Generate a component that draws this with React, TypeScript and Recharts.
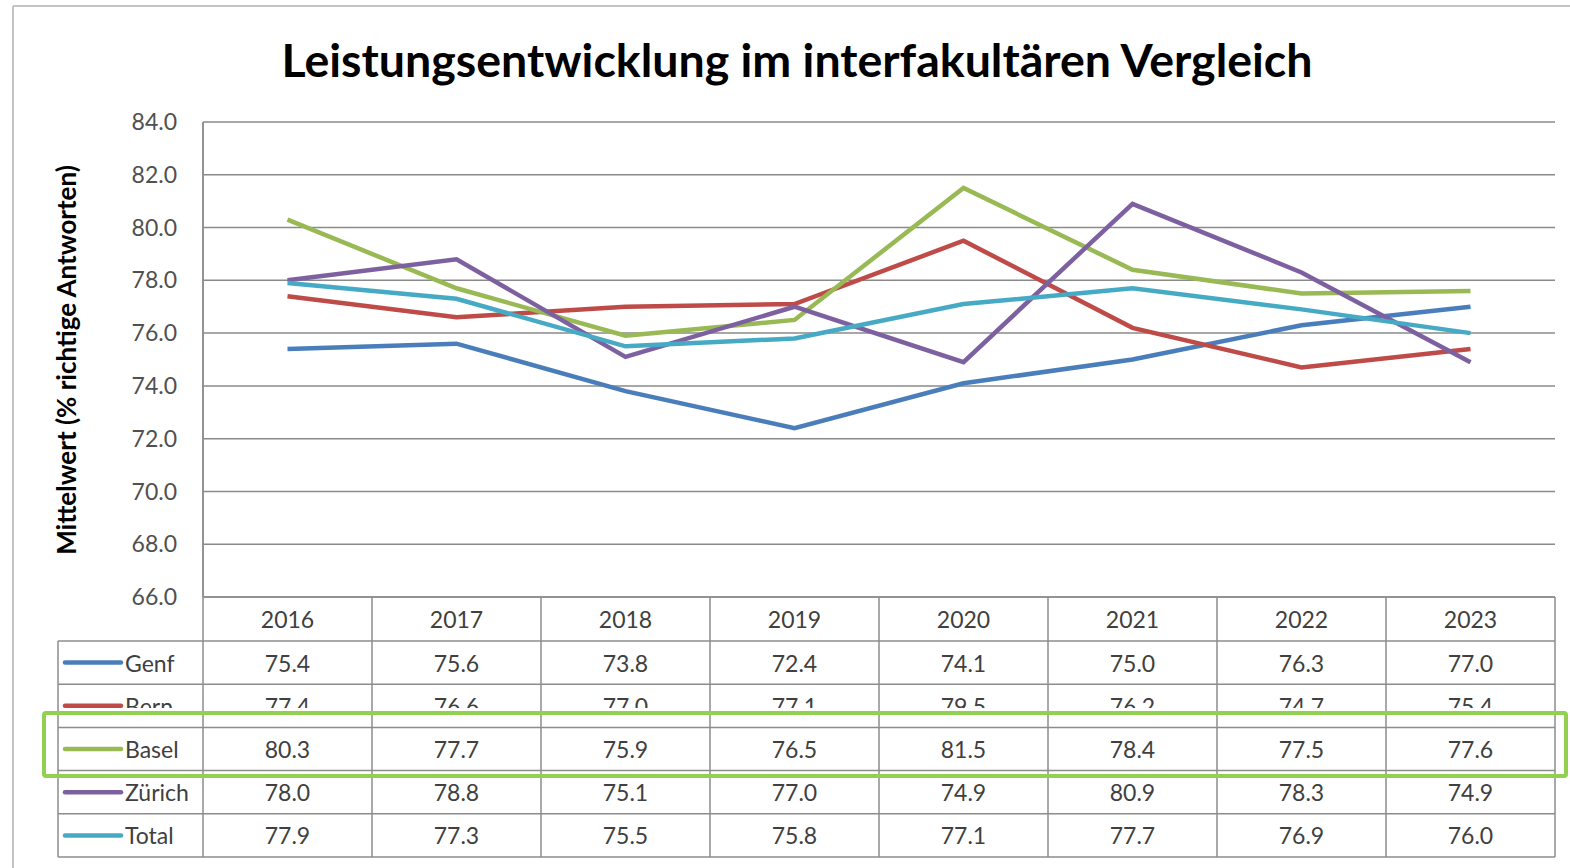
import React from 'react'
import { LineChart, Line, XAxis, YAxis, CartesianGrid } from 'recharts'

const years = ['2016', '2017', '2018', '2019', '2020', '2021', '2022', '2023']
const genf = [75.4, 75.6, 73.8, 72.4, 74.1, 75.0, 76.3, 77.0]
const bern = [77.4, 76.6, 77.0, 77.1, 79.5, 76.2, 74.7, 75.4]
const basel = [80.3, 77.7, 75.9, 76.5, 81.5, 78.4, 77.5, 77.6]
const zuerich = [78.0, 78.8, 75.1, 77.0, 74.9, 80.9, 78.3, 74.9]
const total = [77.9, 77.3, 75.5, 75.8, 77.1, 77.7, 76.9, 76.0]
const yTicks = [66, 68, 70, 72, 74, 76, 78, 80, 82, 84]

const series = [
  { key: 'genf', name: 'Genf', values: genf, color: '#4a7ebb' },
  { key: 'bern', name: 'Bern', values: bern, color: '#be4b48' },
  { key: 'basel', name: 'Basel', values: basel, color: '#98b954' },
  { key: 'zuerich', name: 'Zürich', values: zuerich, color: '#7d60a0' },
  { key: 'total', name: 'Total', values: total, color: '#46aac5' },
]

const data = years.map((y, i) => {
  const row: Record<string, string | number> = { year: y }
  series.forEach(s => { row[s.key] = s.values[i] })
  return row
})

// layout
const W = 1570
const H = 868
const PL = 203
const PR = 1555
const PT = 122
const PB = 597
const COL = (PR - PL) / years.length
const Y_AXIS_W = 120
const HEAD_B = 641
const ROW_H = 43.2
const LABEL_L = 58
const FONT = 'Lato, "Open Sans", sans-serif'
const BORDER = '#8c8c8c'

export default function App() {
  const rowTop = (i: number) => HEAD_B + i * ROW_H
  const tableBottom = rowTop(series.length)

  return (
    <div style={{ position: 'absolute', left: 0, top: 0, width: W, height: H, background: '#fff', fontFamily: FONT, overflow: 'hidden' }}>
      <LineChart
        width={W}
        height={H}
        data={data}
        margin={{ top: PT, right: W - PR, bottom: H - PB, left: PL - Y_AXIS_W }}
        style={{ position: 'absolute', left: 0, top: 0 }}
      >
        <CartesianGrid vertical={false} stroke="#8a8a8a" strokeWidth={1.5} />
        <XAxis dataKey="year" hide padding={{ left: COL / 2, right: COL / 2 }} />
        <YAxis
          width={Y_AXIS_W}
          domain={[66, 84]}
          ticks={yTicks}
          interval={0}
          tickFormatter={(v: number) => v.toFixed(1)}
          tick={{ fill: '#505050', fontSize: 23, fontFamily: FONT }}
          tickLine={false}
          tickSize={0}
          tickMargin={26}
          axisLine={{ stroke: BORDER, strokeWidth: 1.5 }}
        />
        {series.map(s => (
          <Line key={s.key} type="linear" dataKey={s.key} stroke={s.color} strokeWidth={4.5} dot={false} isAnimationActive={false} />
        ))}
      </LineChart>

      <svg width={W} height={H} style={{ position: 'absolute', left: 0, top: 0, pointerEvents: 'none' }}>
        {/* outer frame */}
        <line x1={13} y1={6} x2={W} y2={6} stroke="#c4c4c4" strokeWidth={2} />
        <line x1={13} y1={6} x2={13} y2={H} stroke="#c4c4c4" strokeWidth={2} />

        <text x={797} y={59} textAnchor="middle" dominantBaseline="central" fontSize={46.5} fontWeight={700} fill="#000">
          Leistungsentwicklung im interfakultären Vergleich
        </text>
        <text
          x={66}
          y={360}
          textAnchor="middle"
          dominantBaseline="central"
          fontSize={26}
          fontWeight={700}
          fill="#000"
          transform="rotate(-90 66 360)"
        >
          Mittelwert (% richtige Antworten)
        </text>

        {/* header years */}
        {years.map((y, i) => (
          <text key={y} x={PL + COL * (i + 0.5)} y={(PB + HEAD_B) / 2} textAnchor="middle" dominantBaseline="central" fontSize={23} fill="#404040">
            {y}
          </text>
        ))}

        {/* rows */}
        {series.map((s, r) => {
          const cy = rowTop(r) + ROW_H / 2
          return (
            <g key={s.key}>
              <line x1={65} y1={cy} x2={121} y2={cy} stroke={s.color} strokeWidth={4.5} strokeLinecap="round" />
              <text x={125} y={cy} dominantBaseline="central" fontSize={23} fill="#404040">{s.name}</text>
              {s.values.map((v, i) => (
                <text key={i} x={PL + COL * (i + 0.5)} y={cy} textAnchor="middle" dominantBaseline="central" fontSize={23} fill="#404040">
                  {v.toFixed(1)}
                </text>
              ))}
            </g>
          )
        })}

        {/* cut-off strip in the Bern row */}
        <rect x={LABEL_L + 1} y={708} width={PR - LABEL_L - 2} height={rowTop(2) - 709} fill="#fff" />

        {/* table grid */}
        <line x1={PL} y1={PB} x2={PR} y2={PB} stroke={BORDER} strokeWidth={1.5} />
        {series.map((s, r) => (
          <line key={s.key} x1={LABEL_L} y1={rowTop(r)} x2={PR} y2={rowTop(r)} stroke={BORDER} strokeWidth={1.5} />
        ))}
        <line x1={LABEL_L} y1={tableBottom} x2={PR} y2={tableBottom} stroke={BORDER} strokeWidth={1.5} />
        <line x1={LABEL_L} y1={HEAD_B} x2={LABEL_L} y2={tableBottom} stroke={BORDER} strokeWidth={1.5} />
        {years.map((y, i) => (
          <line key={y} x1={PL + COL * i} y1={i === 0 ? PT : PB} x2={PL + COL * i} y2={tableBottom} stroke={BORDER} strokeWidth={1.5} />
        ))}
        <line x1={PR} y1={PB} x2={PR} y2={tableBottom} stroke={BORDER} strokeWidth={1.5} />

        {/* highlight box */}
        <rect x={44} y={713} width={1522} height={63} rx={2} fill="none" stroke="#92d050" strokeWidth={4} />
      </svg>
    </div>
  )
}
